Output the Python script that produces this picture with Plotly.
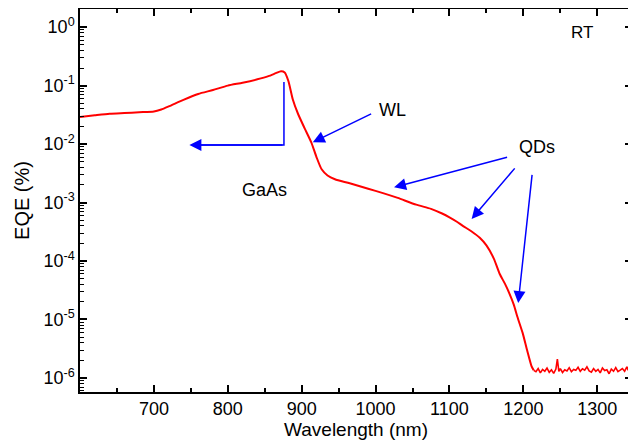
import math
import plotly.graph_objects as go

# Smooth part of the EQE spectrum (wavelength nm, EQE %)
wl_main = [600, 620, 640, 660, 680, 700, 710, 720, 740, 760, 780, 800, 820, 840, 855, 865, 872,
           877, 882, 888, 895, 904, 913, 920, 927, 935, 945, 965, 990, 1010, 1030, 1055, 1075,
           1090, 1100, 1110, 1118, 1130, 1141, 1150, 1160, 1168, 1175, 1181, 1187, 1192, 1199,
           1205, 1211, 1214]
eqe_main = [0.029, 0.031, 0.033, 0.034, 0.035, 0.036, 0.039, 0.044, 0.057, 0.072, 0.084, 0.100,
            0.112, 0.128, 0.145, 0.163, 0.176, 0.168, 0.120, 0.058, 0.033, 0.0186, 0.0107, 0.0060,
            0.0037, 0.0029, 0.0025, 0.00214, 0.00172, 0.00145, 0.00120, 0.00092, 0.00078, 0.00065,
            0.00056, 0.00047, 0.00040, 0.00032, 0.000250, 0.000185, 0.000110, 0.000060, 0.000041,
            0.000028, 0.000018, 0.000011, 0.0000059, 0.0000030, 0.0000016, 0.00000135]

# Noise floor region
wl_noise = [1214, 1217, 1220, 1223, 1226, 1229, 1232, 1235, 1238, 1241, 1244, 1246, 1248, 1250,
            1253, 1256, 1259, 1262, 1265, 1268, 1271, 1274, 1277, 1280, 1283, 1286, 1289, 1292,
            1295, 1298, 1301, 1304, 1307, 1310, 1313, 1316, 1319, 1322, 1325, 1328, 1331, 1334,
            1337, 1340, 1342, 1344, 1346, 1347]
eqe_noise = [1.35e-6, 1.28e-6, 1.45e-6, 1.22e-6, 1.40e-6, 1.30e-6, 1.48e-6, 1.25e-6, 1.38e-6,
             1.20e-6, 1.42e-6, 2.10e-6, 1.30e-6, 1.45e-6, 1.24e-6, 1.38e-6, 1.32e-6, 1.50e-6,
             1.28e-6, 1.40e-6, 1.35e-6, 1.52e-6, 1.30e-6, 1.44e-6, 1.36e-6, 1.55e-6, 1.32e-6,
             1.26e-6, 1.45e-6, 1.30e-6, 1.40e-6, 1.22e-6, 1.48e-6, 1.34e-6, 1.38e-6, 1.18e-6,
             1.42e-6, 1.30e-6, 1.50e-6, 1.28e-6, 1.36e-6, 1.45e-6, 1.30e-6, 1.55e-6, 1.35e-6,
             2.30e-6, 1.50e-6, 1.60e-6]

x_ticks = [700, 800, 900, 1000, 1100, 1200, 1300]
y_tick_vals = [1e-6, 1e-5, 1e-4, 1e-3, 1e-2, 1e-1, 1e0]
y_tick_text = ["10<sup>-6</sup>", "10<sup>-5</sup>", "10<sup>-4</sup>", "10<sup>-3</sup>",
               "10<sup>-2</sup>", "10<sup>-1</sup>", "10<sup>0</sup>"]
y_minor = [m * 10.0 ** e for e in range(-7, 1) for m in range(2, 10)]
x_minor = [650, 750, 850, 950, 1050, 1150, 1250]

FONT = "Liberation Sans, Arial, sans-serif"
BLUE = "#0000ff"
RED = "#ff0000"

fig = go.Figure()
fig.add_trace(go.Scatter(x=wl_main, y=eqe_main, mode="lines",
                         line=dict(color=RED, width=2, shape="spline", smoothing=0.6),
                         showlegend=False))
fig.add_trace(go.Scatter(x=wl_noise, y=eqe_noise, mode="lines",
                         line=dict(color=RED, width=1.6), showlegend=False))

# GaAs bracket (vertical + horizontal lines)
fig.add_trace(go.Scatter(x=[876, 876, 760], y=[0.115, 0.0096, 0.0096], mode="lines",
                         line=dict(color=BLUE, width=1.5), showlegend=False))


def arrow(x0, ly0, x1, ly1):
    fig.add_annotation(x=x1, y=ly1, ax=x0, ay=ly0, xref="x", yref="y", axref="x", ayref="y",
                       text="", showarrow=True, arrowhead=2, arrowsize=1.6, arrowwidth=1.5,
                       arrowcolor=BLUE)


arrow(876, math.log10(0.0096), 748, math.log10(0.0096))
arrow(996, -1.47, 915, -1.97)
arrow(1180, -2.22, 1025, -2.74)
arrow(1190, -2.39, 1130, -3.28)
arrow(1212, -2.50, 1193, -4.72)


def label(x, ly, t, size=18):
    fig.add_annotation(x=x, y=ly, xref="x", yref="y", text=t, showarrow=False,
                       font=dict(family=FONT, size=size, color="black"))


label(850, -2.79, "GaAs")
label(1023, -1.42, "WL")
label(1219, -2.05, "QDs")
label(1280, -0.10, "RT", 17)

axis_common = dict(showline=True, linecolor="black", linewidth=1.5, mirror="allticks",
                   ticks="inside", ticklen=7, tickwidth=1.5, tickcolor="black",
                   showgrid=False, zeroline=False, automargin=False,
                   tickfont=dict(family=FONT, size=18, color="black"))

fig.update_xaxes(range=[600, 1347], tickmode="array", tickvals=x_ticks,
                 minor=dict(tickmode="array", tickvals=x_minor, ticks="inside", ticklen=4,
                            tickwidth=1.5, tickcolor="black"),
                 title=dict(text="Wavelength (nm)", font=dict(family=FONT, size=19, color="black"),
                            standoff=2),
                 **axis_common)
fig.update_yaxes(type="log", range=[-6.24, 0.31], tickmode="array", tickvals=y_tick_vals,
                 ticktext=y_tick_text,
                 minor=dict(tickmode="array", tickvals=y_minor, ticks="inside", ticklen=4,
                            tickwidth=1.2, tickcolor="black"),
                 title=dict(text="EQE (%)", font=dict(family=FONT, size=20, color="black"),
                            standoff=8),
                 **axis_common)

# The page body adds an 8px margin, so the figure is sized to land the plot
# area on the same pixels as the reference.
fig.update_layout(width=628, height=434, margin=dict(l=72, r=4, t=1, b=50),
                  plot_bgcolor="white", paper_bgcolor="white",
                  font=dict(family=FONT, color="black"))

fig.write_html("out.html")
